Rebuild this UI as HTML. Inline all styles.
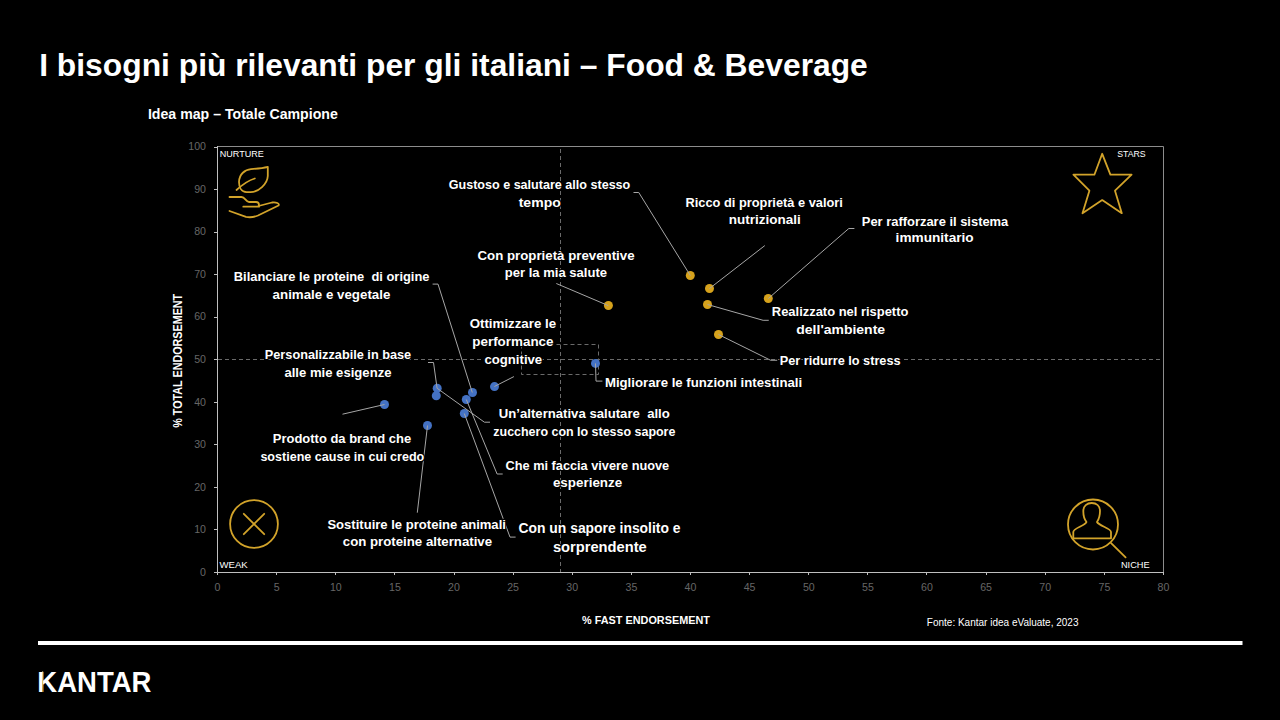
<!DOCTYPE html>
<html><head><meta charset="utf-8">
<style>
html,body{margin:0;padding:0;background:#000;}
body{width:1280px;height:720px;overflow:hidden;position:relative;}
svg{position:absolute;left:0;top:0;font-family:"Liberation Sans", sans-serif;}
</style></head>
<body>
<svg width="1280" height="720" viewBox="0 0 1280 720">
<rect x="0" y="0" width="1280" height="720" fill="#000"/>
<rect x="38" y="641" width="1204.5" height="4" fill="#FFFFFF"/>
<path d="M217.5 146.5 H1163.5 V572.5" fill="none" stroke="#8C8C8C" stroke-width="1"/>
<line x1="218" y1="359.5" x2="1163" y2="359.5" stroke="#6A6A6A" stroke-width="1" stroke-dasharray="4 3"/>
<line x1="560.5" y1="149" x2="560.5" y2="572" stroke="#6A6A6A" stroke-width="1" stroke-dasharray="4 3"/>
<rect x="521.5" y="344.5" width="77" height="30" fill="none" stroke="#6A6A6A" stroke-width="1" stroke-dasharray="4 3"/>
<line x1="217.5" y1="146" x2="217.5" y2="573" stroke="#BFBFBF" stroke-width="1"/>
<line x1="217" y1="572.5" x2="1164" y2="572.5" stroke="#BFBFBF" stroke-width="1"/>
<line x1="214" y1="572.5" x2="217" y2="572.5" stroke="#BFBFBF" stroke-width="1"/>
<text x="206" y="575.6" text-anchor="end" font-size="10.6" fill="#666666">0</text>
<line x1="214" y1="529.5" x2="217" y2="529.5" stroke="#BFBFBF" stroke-width="1"/>
<text x="206" y="533.1" text-anchor="end" font-size="10.6" fill="#666666">10</text>
<line x1="214" y1="487.5" x2="217" y2="487.5" stroke="#BFBFBF" stroke-width="1"/>
<text x="206" y="490.6" text-anchor="end" font-size="10.6" fill="#666666">20</text>
<line x1="214" y1="444.5" x2="217" y2="444.5" stroke="#BFBFBF" stroke-width="1"/>
<text x="206" y="448.0" text-anchor="end" font-size="10.6" fill="#666666">30</text>
<line x1="214" y1="402.5" x2="217" y2="402.5" stroke="#BFBFBF" stroke-width="1"/>
<text x="206" y="405.5" text-anchor="end" font-size="10.6" fill="#666666">40</text>
<line x1="214" y1="359.5" x2="217" y2="359.5" stroke="#BFBFBF" stroke-width="1"/>
<text x="206" y="363.0" text-anchor="end" font-size="10.6" fill="#666666">50</text>
<line x1="214" y1="317.5" x2="217" y2="317.5" stroke="#BFBFBF" stroke-width="1"/>
<text x="206" y="320.4" text-anchor="end" font-size="10.6" fill="#666666">60</text>
<line x1="214" y1="274.5" x2="217" y2="274.5" stroke="#BFBFBF" stroke-width="1"/>
<text x="206" y="277.9" text-anchor="end" font-size="10.6" fill="#666666">70</text>
<line x1="214" y1="232.5" x2="217" y2="232.5" stroke="#BFBFBF" stroke-width="1"/>
<text x="206" y="235.4" text-anchor="end" font-size="10.6" fill="#666666">80</text>
<line x1="214" y1="189.5" x2="217" y2="189.5" stroke="#BFBFBF" stroke-width="1"/>
<text x="206" y="192.9" text-anchor="end" font-size="10.6" fill="#666666">90</text>
<line x1="214" y1="147.5" x2="217" y2="147.5" stroke="#BFBFBF" stroke-width="1"/>
<text x="206" y="150.3" text-anchor="end" font-size="10.6" fill="#666666">100</text>
<line x1="217.5" y1="573" x2="217.5" y2="575" stroke="#BFBFBF" stroke-width="1"/>
<text x="217.5" y="591" text-anchor="middle" font-size="10.6" fill="#666666">0</text>
<line x1="276.5" y1="573" x2="276.5" y2="575" stroke="#BFBFBF" stroke-width="1"/>
<text x="276.6" y="591" text-anchor="middle" font-size="10.6" fill="#666666">5</text>
<line x1="335.5" y1="573" x2="335.5" y2="575" stroke="#BFBFBF" stroke-width="1"/>
<text x="335.8" y="591" text-anchor="middle" font-size="10.6" fill="#666666">10</text>
<line x1="394.5" y1="573" x2="394.5" y2="575" stroke="#BFBFBF" stroke-width="1"/>
<text x="394.9" y="591" text-anchor="middle" font-size="10.6" fill="#666666">15</text>
<line x1="454.5" y1="573" x2="454.5" y2="575" stroke="#BFBFBF" stroke-width="1"/>
<text x="454.0" y="591" text-anchor="middle" font-size="10.6" fill="#666666">20</text>
<line x1="513.5" y1="573" x2="513.5" y2="575" stroke="#BFBFBF" stroke-width="1"/>
<text x="513.1" y="591" text-anchor="middle" font-size="10.6" fill="#666666">25</text>
<line x1="572.5" y1="573" x2="572.5" y2="575" stroke="#BFBFBF" stroke-width="1"/>
<text x="572.2" y="591" text-anchor="middle" font-size="10.6" fill="#666666">30</text>
<line x1="631.5" y1="573" x2="631.5" y2="575" stroke="#BFBFBF" stroke-width="1"/>
<text x="631.4" y="591" text-anchor="middle" font-size="10.6" fill="#666666">35</text>
<line x1="690.5" y1="573" x2="690.5" y2="575" stroke="#BFBFBF" stroke-width="1"/>
<text x="690.5" y="591" text-anchor="middle" font-size="10.6" fill="#666666">40</text>
<line x1="749.5" y1="573" x2="749.5" y2="575" stroke="#BFBFBF" stroke-width="1"/>
<text x="749.6" y="591" text-anchor="middle" font-size="10.6" fill="#666666">45</text>
<line x1="808.5" y1="573" x2="808.5" y2="575" stroke="#BFBFBF" stroke-width="1"/>
<text x="808.8" y="591" text-anchor="middle" font-size="10.6" fill="#666666">50</text>
<line x1="867.5" y1="573" x2="867.5" y2="575" stroke="#BFBFBF" stroke-width="1"/>
<text x="867.9" y="591" text-anchor="middle" font-size="10.6" fill="#666666">55</text>
<line x1="926.5" y1="573" x2="926.5" y2="575" stroke="#BFBFBF" stroke-width="1"/>
<text x="927.0" y="591" text-anchor="middle" font-size="10.6" fill="#666666">60</text>
<line x1="986.5" y1="573" x2="986.5" y2="575" stroke="#BFBFBF" stroke-width="1"/>
<text x="986.1" y="591" text-anchor="middle" font-size="10.6" fill="#666666">65</text>
<line x1="1045.5" y1="573" x2="1045.5" y2="575" stroke="#BFBFBF" stroke-width="1"/>
<text x="1045.2" y="591" text-anchor="middle" font-size="10.6" fill="#666666">70</text>
<line x1="1104.5" y1="573" x2="1104.5" y2="575" stroke="#BFBFBF" stroke-width="1"/>
<text x="1104.4" y="591" text-anchor="middle" font-size="10.6" fill="#666666">75</text>
<line x1="1163.5" y1="573" x2="1163.5" y2="575" stroke="#BFBFBF" stroke-width="1"/>
<text x="1163.5" y="591" text-anchor="middle" font-size="10.6" fill="#666666">80</text>
<circle cx="384.5" cy="404.5" r="4.5" fill="#4472C4"/>
<circle cx="437.2" cy="388.3" r="4.5" fill="#4472C4"/>
<circle cx="436.3" cy="395.8" r="4.5" fill="#4472C4"/>
<circle cx="472.5" cy="392.5" r="4.5" fill="#4472C4"/>
<circle cx="466.3" cy="399.5" r="4.5" fill="#4472C4"/>
<circle cx="464.3" cy="413.5" r="4.5" fill="#4472C4"/>
<circle cx="427.5" cy="425.5" r="4.5" fill="#4472C4"/>
<circle cx="494.5" cy="386.6" r="4.5" fill="#4472C4"/>
<circle cx="595.5" cy="363.4" r="4.5" fill="#4472C4"/>
<circle cx="690.3" cy="275.5" r="4.5" fill="#D6A21C"/>
<circle cx="709.5" cy="288.5" r="4.5" fill="#D6A21C"/>
<circle cx="707.5" cy="304.5" r="4.5" fill="#D6A21C"/>
<circle cx="768.3" cy="298.5" r="4.5" fill="#D6A21C"/>
<circle cx="718.5" cy="334.5" r="4.5" fill="#D6A21C"/>
<circle cx="608.4" cy="305.5" r="4.5" fill="#D6A21C"/>
<path d="M633.5,192.5 L638.75,192.5 L690.3,275.5" fill="none" stroke="#A6A6A6" stroke-width="1"/>
<path d="M764.8,245.6 L709.5,288.5" fill="none" stroke="#A6A6A6" stroke-width="1"/>
<path d="M854.4,228.5 L848.8,228.5 L768.3,298.5" fill="none" stroke="#A6A6A6" stroke-width="1"/>
<path d="M707.5,304.5 L763.1,320.3 L768.75,320.3" fill="none" stroke="#A6A6A6" stroke-width="1"/>
<path d="M718.5,334.5 L770.6,360.25 L777.2,360.25" fill="none" stroke="#A6A6A6" stroke-width="1"/>
<path d="M556.3,283.5 L608.3,305.6" fill="none" stroke="#A6A6A6" stroke-width="1"/>
<path d="M432.6,284.1 L438,284.1 L472.3,392.5" fill="none" stroke="#A6A6A6" stroke-width="1"/>
<path d="M428,362.5 L433.5,362.5 L437.1,388.3" fill="none" stroke="#A6A6A6" stroke-width="1"/>
<path d="M513.9,376.6 L494.4,386.5" fill="none" stroke="#A6A6A6" stroke-width="1"/>
<path d="M595.5,363.4 L596,381.1 L602.4,381.1" fill="none" stroke="#A6A6A6" stroke-width="1"/>
<path d="M342.5,414.2 L384.5,404.5" fill="none" stroke="#A6A6A6" stroke-width="1"/>
<path d="M437.2,388.3 L484.4,422.2 L490,422.2" fill="none" stroke="#A6A6A6" stroke-width="1"/>
<path d="M466.3,399.5 L497.1,474 L502.7,474" fill="none" stroke="#A6A6A6" stroke-width="1"/>
<path d="M464.3,413.5 L510,537.1 L515.6,537.1" fill="none" stroke="#A6A6A6" stroke-width="1"/>
<path d="M427.5,425.5 L417.3,512.7" fill="none" stroke="#A6A6A6" stroke-width="1"/>
<g fill="none" stroke="#D2A32A" stroke-width="1.8" stroke-linecap="round" stroke-linejoin="round">
<path d="M267.8,166.8 L267.8,176 C267.4,184 258.5,192.2 250.5,192.2 L246.5,192.2 C241.5,192 239,187.5 239,182 C239.2,174 245,169.6 251,169.1 C258,168.6 262,168.3 267.8,166.8 Z"/>
<path d="M236.5,190 C242,185 248,180.5 254.8,178.5"/>
<path d="M229.5,197 L241.5,197 C245,197 246,202 249,202 L256,202 C258,202 259,203 259,205 L259,206.7 L243.3,206.7"/>
<path d="M258.5,206 L272,202.5 C276,201.8 280,203.5 278.5,205.5 L258,215.5 C253,217.5 249,217.5 246,216.8 L229.5,211"/>
<path d="M1102.2,153.8 L1110.4,174.7 L1131.6,174.7 L1115,190.7 L1121.8,213.2 L1102.2,200.1 L1082.5,213.2 L1089.4,190.7 L1073.4,174.7 L1094.4,174.7 Z"/>
<circle cx="254" cy="524" r="23.9"/>
<path d="M243.8,513.8 L264.2,534.2 M264.2,513.8 L243.8,534.2"/>
<circle cx="1093" cy="524.5" r="25"/>
<path d="M1111.1,543.1 L1125.6,557.4"/>
<path d="M1073.3,538.3 L1073.3,532 C1073.3,528 1085,526 1086.5,522 C1084,519 1083.3,515 1083.3,511 C1083.3,506 1087,503 1091.7,503 C1096.5,503 1100,506 1100,511 C1100,515 1099,519 1097,522 C1099,526 1111,528 1111,532 L1111,538.3 Z"/>
</g>
<text id="title" x="39.20" y="76.25" font-size="32" font-weight="bold" fill="#FFFFFF" textLength="828.60" lengthAdjust="spacingAndGlyphs" xml:space="preserve">I bisogni più rilevanti per gli italiani – Food &amp; Beverage</text>
<text id="sub" x="147.95" y="119.25" font-size="14" font-weight="bold" fill="#FFFFFF" textLength="189.85" lengthAdjust="spacingAndGlyphs" stroke="#000" stroke-width="2.5" paint-order="stroke" stroke-linejoin="round" xml:space="preserve">Idea map – Totale Campione</text>
<text id="g1" x="448.70" y="189.25" font-size="13.5" font-weight="bold" fill="#FFFFFF" textLength="181.60" lengthAdjust="spacingAndGlyphs" stroke="#000" stroke-width="2.5" paint-order="stroke" stroke-linejoin="round" xml:space="preserve">Gustoso e salutare allo stesso</text>
<text id="g2" x="518.70" y="207" font-size="13.5" font-weight="bold" fill="#FFFFFF" textLength="42.10" lengthAdjust="spacingAndGlyphs" stroke="#000" stroke-width="2.5" paint-order="stroke" stroke-linejoin="round" xml:space="preserve">tempo</text>
<text id="cp1" x="477.45" y="259.5" font-size="13.5" font-weight="bold" fill="#FFFFFF" textLength="157.10" lengthAdjust="spacingAndGlyphs" stroke="#000" stroke-width="2.5" paint-order="stroke" stroke-linejoin="round" xml:space="preserve">Con proprietà preventive</text>
<text id="cp2" x="504.70" y="277" font-size="13.5" font-weight="bold" fill="#FFFFFF" textLength="102.35" lengthAdjust="spacingAndGlyphs" stroke="#000" stroke-width="2.5" paint-order="stroke" stroke-linejoin="round" xml:space="preserve">per la mia salute</text>
<text id="r1" x="685.50" y="206.7" font-size="13.5" font-weight="bold" fill="#FFFFFF" textLength="157.40" lengthAdjust="spacingAndGlyphs" stroke="#000" stroke-width="2.5" paint-order="stroke" stroke-linejoin="round" xml:space="preserve">Ricco di proprietà e valori</text>
<text id="r2" x="728.80" y="224.2" font-size="13.5" font-weight="bold" fill="#FFFFFF" textLength="71.90" lengthAdjust="spacingAndGlyphs" stroke="#000" stroke-width="2.5" paint-order="stroke" stroke-linejoin="round" xml:space="preserve">nutrizionali</text>
<text id="pr1" x="861.80" y="225.6" font-size="13.5" font-weight="bold" fill="#FFFFFF" textLength="146.50" lengthAdjust="spacingAndGlyphs" stroke="#000" stroke-width="2.5" paint-order="stroke" stroke-linejoin="round" xml:space="preserve">Per rafforzare il sistema</text>
<text id="pr2" x="895.60" y="242.4" font-size="13.5" font-weight="bold" fill="#FFFFFF" textLength="78.10" lengthAdjust="spacingAndGlyphs" stroke="#000" stroke-width="2.5" paint-order="stroke" stroke-linejoin="round" xml:space="preserve">immunitario</text>
<text id="re1" x="771.80" y="315.8" font-size="13.5" font-weight="bold" fill="#FFFFFF" textLength="136.60" lengthAdjust="spacingAndGlyphs" stroke="#000" stroke-width="2.5" paint-order="stroke" stroke-linejoin="round" xml:space="preserve">Realizzato nel rispetto</text>
<text id="re2" x="796.30" y="333.5" font-size="13.5" font-weight="bold" fill="#FFFFFF" textLength="88.80" lengthAdjust="spacingAndGlyphs" stroke="#000" stroke-width="2.5" paint-order="stroke" stroke-linejoin="round" xml:space="preserve">dell'ambiente</text>
<text id="rs1" x="779.70" y="364.8" font-size="13.5" font-weight="bold" fill="#FFFFFF" textLength="120.90" lengthAdjust="spacingAndGlyphs" stroke="#000" stroke-width="2.5" paint-order="stroke" stroke-linejoin="round" xml:space="preserve">Per ridurre lo stress</text>
<text id="b1" x="233.80" y="281.2" font-size="13.5" font-weight="bold" fill="#FFFFFF" textLength="195.70" lengthAdjust="spacingAndGlyphs" stroke="#000" stroke-width="2.5" paint-order="stroke" stroke-linejoin="round" xml:space="preserve">Bilanciare le proteine  di origine</text>
<text id="b2" x="272.60" y="298.6" font-size="13.5" font-weight="bold" fill="#FFFFFF" textLength="117.80" lengthAdjust="spacingAndGlyphs" stroke="#000" stroke-width="2.5" paint-order="stroke" stroke-linejoin="round" xml:space="preserve">animale e vegetale</text>
<text id="o1" x="469.70" y="328.1" font-size="13.5" font-weight="bold" fill="#FFFFFF" textLength="86.40" lengthAdjust="spacingAndGlyphs" stroke="#000" stroke-width="2.5" paint-order="stroke" stroke-linejoin="round" xml:space="preserve">Ottimizzare le</text>
<text id="o2" x="472.30" y="346.4" font-size="13.5" font-weight="bold" fill="#FFFFFF" textLength="81.20" lengthAdjust="spacingAndGlyphs" stroke="#000" stroke-width="2.5" paint-order="stroke" stroke-linejoin="round" xml:space="preserve">performance</text>
<text id="o3" x="484.40" y="363.8" font-size="13.5" font-weight="bold" fill="#FFFFFF" textLength="57.80" lengthAdjust="spacingAndGlyphs" stroke="#000" stroke-width="2.5" paint-order="stroke" stroke-linejoin="round" xml:space="preserve">cognitive</text>
<text id="p1" x="264.80" y="359" font-size="13.5" font-weight="bold" fill="#FFFFFF" textLength="146.40" lengthAdjust="spacingAndGlyphs" stroke="#000" stroke-width="2.5" paint-order="stroke" stroke-linejoin="round" xml:space="preserve">Personalizzabile in base</text>
<text id="p2" x="284.40" y="376.5" font-size="13.5" font-weight="bold" fill="#FFFFFF" textLength="107.10" lengthAdjust="spacingAndGlyphs" stroke="#000" stroke-width="2.5" paint-order="stroke" stroke-linejoin="round" xml:space="preserve">alle mie esigenze</text>
<text id="pd1" x="272.80" y="442.8" font-size="13.5" font-weight="bold" fill="#FFFFFF" textLength="138.40" lengthAdjust="spacingAndGlyphs" stroke="#000" stroke-width="2.5" paint-order="stroke" stroke-linejoin="round" xml:space="preserve">Prodotto da brand che</text>
<text id="pd2" x="260.40" y="460.5" font-size="13.5" font-weight="bold" fill="#FFFFFF" textLength="163.90" lengthAdjust="spacingAndGlyphs" stroke="#000" stroke-width="2.5" paint-order="stroke" stroke-linejoin="round" xml:space="preserve">sostiene cause in cui credo</text>
<text id="s1" x="327.40" y="528.8" font-size="13.5" font-weight="bold" fill="#FFFFFF" textLength="178.50" lengthAdjust="spacingAndGlyphs" stroke="#000" stroke-width="2.5" paint-order="stroke" stroke-linejoin="round" xml:space="preserve">Sostituire le proteine animali</text>
<text id="s2" x="342.80" y="546.2" font-size="13.5" font-weight="bold" fill="#FFFFFF" textLength="149.30" lengthAdjust="spacingAndGlyphs" stroke="#000" stroke-width="2.5" paint-order="stroke" stroke-linejoin="round" xml:space="preserve">con proteine alternative</text>
<text id="m1" x="604.90" y="386.7" font-size="13.5" font-weight="bold" fill="#FFFFFF" textLength="197.30" lengthAdjust="spacingAndGlyphs" stroke="#000" stroke-width="2.5" paint-order="stroke" stroke-linejoin="round" xml:space="preserve">Migliorare le funzioni intestinali</text>
<text id="u1" x="498.80" y="418.4" font-size="13.5" font-weight="bold" fill="#FFFFFF" textLength="171.00" lengthAdjust="spacingAndGlyphs" stroke="#000" stroke-width="2.5" paint-order="stroke" stroke-linejoin="round" xml:space="preserve">Un’alternativa salutare  allo</text>
<text id="u2" x="493.30" y="436.3" font-size="13.5" font-weight="bold" fill="#FFFFFF" textLength="182.10" lengthAdjust="spacingAndGlyphs" stroke="#000" stroke-width="2.5" paint-order="stroke" stroke-linejoin="round" xml:space="preserve">zucchero con lo stesso sapore</text>
<text id="c1" x="505.50" y="469.7" font-size="13.5" font-weight="bold" fill="#FFFFFF" textLength="163.70" lengthAdjust="spacingAndGlyphs" stroke="#000" stroke-width="2.5" paint-order="stroke" stroke-linejoin="round" xml:space="preserve">Che mi faccia vivere nuove</text>
<text id="c2" x="552.90" y="487.4" font-size="13.5" font-weight="bold" fill="#FFFFFF" textLength="69.30" lengthAdjust="spacingAndGlyphs" stroke="#000" stroke-width="2.5" paint-order="stroke" stroke-linejoin="round" xml:space="preserve">esperienze</text>
<text id="cs1" x="518.50" y="532.9" font-size="14" font-weight="bold" fill="#FFFFFF" textLength="162.00" lengthAdjust="spacingAndGlyphs" stroke="#000" stroke-width="2.5" paint-order="stroke" stroke-linejoin="round" xml:space="preserve">Con un sapore insolito e</text>
<text id="cs2" x="552.90" y="552.1" font-size="14" font-weight="bold" fill="#FFFFFF" textLength="93.80" lengthAdjust="spacingAndGlyphs" stroke="#000" stroke-width="2.5" paint-order="stroke" stroke-linejoin="round" xml:space="preserve">sorprendente</text>
<text id="xl" x="582.10" y="624" font-size="11.2" font-weight="bold" fill="#FFFFFF" textLength="127.80" lengthAdjust="spacingAndGlyphs" xml:space="preserve">% FAST ENDORSEMENT</text>
<text id="fonte" x="926.80" y="625.9" font-size="10.2" font-weight="normal" fill="#FFFFFF" textLength="151.70" lengthAdjust="spacingAndGlyphs" xml:space="preserve">Fonte: Kantar idea eValuate, 2023</text>
<text id="kantar" x="37.30" y="692" font-size="29.6" font-weight="bold" fill="#FFFFFF" textLength="114.10" lengthAdjust="spacingAndGlyphs" xml:space="preserve">KANTAR</text>
<text id="nurture" x="219.80" y="157.2" font-size="9.4" font-weight="normal" fill="#FFFFFF" textLength="44.10" lengthAdjust="spacingAndGlyphs" xml:space="preserve">NURTURE</text>
<text id="stars" x="1117.20" y="156.8" font-size="9.4" font-weight="normal" fill="#FFFFFF" textLength="28.50" lengthAdjust="spacingAndGlyphs" xml:space="preserve">STARS</text>
<text id="weak" x="219.50" y="567.9" font-size="9.4" font-weight="normal" fill="#FFFFFF" textLength="28.20" lengthAdjust="spacingAndGlyphs" xml:space="preserve">WEAK</text>
<text id="niche" x="1120.90" y="567.6" font-size="9.4" font-weight="normal" fill="#FFFFFF" textLength="28.80" lengthAdjust="spacingAndGlyphs" xml:space="preserve">NICHE</text>
<text id="ytitle" transform="translate(182.2 360.80) rotate(-90)" x="0" y="0" text-anchor="middle" font-size="12.4" font-weight="bold" fill="#FFFFFF" textLength="134.00" lengthAdjust="spacingAndGlyphs">% TOTAL ENDORSEMENT</text>
<defs><linearGradient id="kg" x1="0" y1="0" x2="0" y2="1"><stop offset="0" stop-color="#F3E3A6"/><stop offset="1" stop-color="#C99A2E"/></linearGradient></defs>
<rect x="42" y="671.5" width="1.2" height="20.5" fill="url(#kg)"/>
</svg>
</body></html>
